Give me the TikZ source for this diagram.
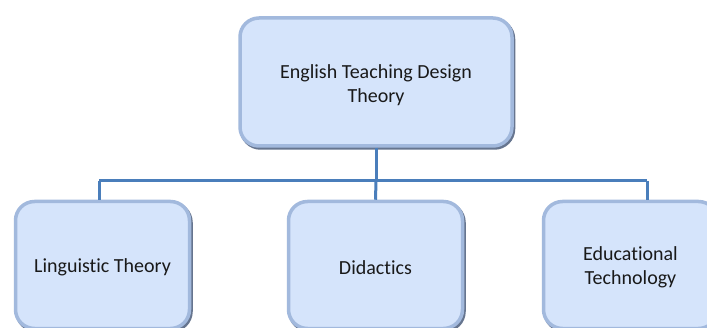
\documentclass[tikz,border=0pt]{standalone}
\usepackage{fontspec}
\setmainfont{Carlito}[Ligatures=NoCommon]
\definecolor{boxfill}{HTML}{D5E4FB}
\definecolor{boxedge}{HTML}{A2B9DD}
\definecolor{boxdark}{HTML}{66758F}
\definecolor{linkblue}{HTML}{4A7EBB}
\tikzset{
  box/.style={rounded corners=19pt, fill=boxfill, draw=boxedge, line width=3.5pt, inner sep=0pt,
    preaction={draw=boxdark, line width=3.5pt, transform canvas={shift={(1.5pt,-2pt)}}}},
  boxtext/.style={align=center, font=\fontsize{20}{24.5}\selectfont, text=black!90, inner sep=0pt},
  topbox/.style={box, minimum width=272pt, minimum height=128pt},
  subbox/.style={box, minimum width=174pt, minimum height=127pt},
  link/.style={draw=linkblue, line width=3pt}
}
\begin{document}
\begin{tikzpicture}[x=1pt,y=1pt]
\useasboundingbox (0,0) rectangle (707,327);
\fill[white] (0,0) rectangle (707,327);
\node[topbox, label={[boxtext,yshift=-3pt]center:English Teaching Design\\Theory}] (top) at (376,245) {};
\node[subbox, label={[boxtext,yshift=-2.5pt]center:Linguistic Theory}] (ling) at (102.5,62) {};
\node[subbox, label={[boxtext,yshift=-2.5pt]center:Didactics}] (did) at (375.5,62) {};
\node[subbox, label={[boxtext,yshift=-2.5pt]center:Educational\\Technology}] (edu) at (630.5,62) {};
\coordinate (j) at (376,146);
\coordinate (lj) at (99,146);
\coordinate (rj) at (647,146);
\draw[link] (top.south) -- (j);
\draw[link] (lj) -- (rj);
\draw[link] (lj) -- (lj |- ling.north);
\draw[link] (j) -- (did.north);
\draw[link] (rj) -- (rj |- edu.north);
\end{tikzpicture}
\end{document}
